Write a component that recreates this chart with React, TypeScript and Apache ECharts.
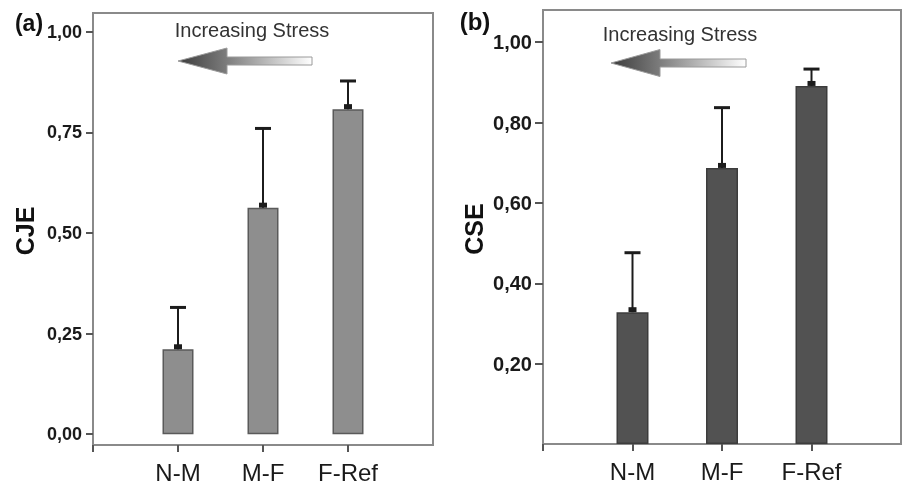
import React, { useEffect, useRef } from "react";
import * as echarts from "echarts";

// ---- data ----
const categories = ["N-M", "M-F", "F-Ref"];
const cjeMeans = [0.211, 0.563, 0.808];
const cjeErrTop = [0.315, 0.76, 0.878];
const cseMeans = [0.328, 0.687, 0.891];
const cseErrTop = [0.476, 0.837, 0.933];
const cjeTicks = [0, 0.25, 0.5, 0.75, 1.0];
const cseTicks = [0.2, 0.4, 0.6, 0.8, 1.0];
const annotation = "Increasing Stress";

const fmt = (v: number) => v.toFixed(2).replace(".", ",");

function errSeries(xAxisIndex: number, means: number[], tops: number[]) {
  return {
    type: "custom",
    xAxisIndex,
    yAxisIndex: xAxisIndex,
    data: means.map((m, i) => [i + 1, m, tops[i]]),
    z: 5,
    renderItem: (params: any, api: any) => {
      const x = api.value(0);
      const base = api.coord([x, api.value(1)]);
      const top = api.coord([x, api.value(2)]);
      const c = "#1c1c1c";
      return {
        type: "group",
        children: [
          { type: "line", shape: { x1: base[0], y1: base[1], x2: top[0], y2: top[1] }, style: { stroke: c, lineWidth: 2 } },
          { type: "line", shape: { x1: top[0] - 8, y1: top[1], x2: top[0] + 8, y2: top[1] }, style: { stroke: c, lineWidth: 3 } },
          { type: "rect", shape: { x: base[0] - 4, y: base[1] - 5, width: 8, height: 5 }, style: { fill: c } },
        ],
      };
    },
  };
}

function arrow(tipX: number, tipY: number, headX: number, headHalf: number, shaftHalf: number, tailX: number) {
  return {
    type: "polygon",
    shape: {
      points: [
        [tipX, tipY],
        [headX, tipY - headHalf],
        [headX, tipY - shaftHalf],
        [tailX, tipY - shaftHalf],
        [tailX, tipY + shaftHalf],
        [headX, tipY + shaftHalf],
        [headX, tipY + headHalf],
      ],
    },
    style: {
      fill: new echarts.graphic.LinearGradient(0, 0, 1, 0, [
        { offset: 0, color: "#3c3c3c" },
        { offset: 0.35, color: "#7a7a7a" },
        { offset: 1, color: "#ffffff" },
      ]),
      stroke: "#9a9a9a",
      lineWidth: 1,
    },
  };
}

export default function App() {
  const ref = useRef<HTMLDivElement>(null);
  useEffect(() => {
    if (!ref.current) return;
    const chart = echarts.init(ref.current, undefined, { renderer: "svg" });
    const frame = "#8a8a8a";
    const font = "Liberation Sans, Arial, sans-serif";
    const xAxisBase = (gridIndex: number) => ({
      type: "value",
      gridIndex,
      min: 0,
      max: 4,
      axisLine: { onZero: false, lineStyle: { color: frame, width: 2 } },
      axisTick: { customValues: [0, 1, 2, 3], length: 7, lineStyle: { color: "#555", width: 2 } },
      axisLabel: {
        customValues: [1, 2, 3],
        formatter: (v: number) => categories[Math.round(v) - 1] ?? "",
        color: "#1a1a1a",
        fontSize: 24,
        fontFamily: font,
        margin: 15,
      },
      splitLine: { show: false },
    });
    const option: any = {
      animation: false,
      grid: [
        { left: 93, top: 13, width: 340, height: 432, show: true, borderColor: frame, borderWidth: 2 },
        { left: 543, top: 10, width: 358, height: 434, show: true, borderColor: frame, borderWidth: 2 },
      ],
      xAxis: [xAxisBase(0), xAxisBase(1)],
      yAxis: [
        {
          type: "value",
          gridIndex: 0,
          min: -0.027,
          max: 1.047,
          axisLine: { show: true, onZero: false, lineStyle: { color: frame, width: 2 } },
          axisTick: { show: true, customValues: cjeTicks, length: 7, lineStyle: { color: "#555", width: 2 } },
          axisLabel: { customValues: cjeTicks, formatter: fmt, fontWeight: "bold", fontSize: 18, fontFamily: font, color: "#1a1a1a", margin: 11 },
          splitLine: { show: false },
        },
        {
          type: "value",
          gridIndex: 1,
          min: 0,
          max: 1.08,
          axisLine: { show: true, onZero: false, lineStyle: { color: frame, width: 2 } },
          axisTick: { show: true, customValues: cseTicks, length: 8, lineStyle: { color: "#555", width: 2 } },
          axisLabel: { customValues: cseTicks, formatter: fmt, fontWeight: "bold", fontSize: 20, fontFamily: font, color: "#1a1a1a", margin: 11 },
          splitLine: { show: false },
        },
      ],
      series: [
        {
          type: "bar",
          xAxisIndex: 0,
          yAxisIndex: 0,
          barWidth: 31,
          data: cjeMeans.map((m, i) => [i + 1, m]),
          itemStyle: { color: "#8e8e8e", borderColor: "#5a5a5a", borderWidth: 1.5 },
        },
        {
          type: "bar",
          xAxisIndex: 1,
          yAxisIndex: 1,
          barWidth: 32,
          data: cseMeans.map((m, i) => [i + 1, m]),
          itemStyle: { color: "#525252", borderColor: "#3c3c3c", borderWidth: 1.5 },
        },
        errSeries(0, cjeMeans, cjeErrTop),
        errSeries(1, cseMeans, cseErrTop),
      ],
      graphic: [
        { type: "text", x: 29, y: 23, style: { text: "(a)", font: `bold 23px ${font}`, fill: "#111", align: "center", verticalAlign: "middle" } },
        { type: "text", x: 475, y: 21, style: { text: "(b)", font: `bold 24px ${font}`, fill: "#111", align: "center", verticalAlign: "middle" } },
        { type: "text", x: 25, y: 231, rotation: Math.PI / 2, style: { text: "CJE", font: `bold 25px ${font}`, fill: "#111", align: "center", verticalAlign: "middle" } },
        { type: "text", x: 474, y: 229, rotation: Math.PI / 2, style: { text: "CSE", font: `bold 25px ${font}`, fill: "#111", align: "center", verticalAlign: "middle" } },
        { type: "text", x: 252, y: 30, style: { text: annotation, font: `20px ${font}`, fill: "#333", align: "center", verticalAlign: "middle" } },
        { type: "text", x: 680, y: 34, style: { text: annotation, font: `20px ${font}`, fill: "#333", align: "center", verticalAlign: "middle" } },
        arrow(178, 61, 227, 13, 4, 312),
        arrow(611, 63, 660, 13.5, 4, 746),
      ],
    };
    chart.setOption(option);
    return () => chart.dispose();
  }, []);
  return <div ref={ref} style={{ position: "fixed", left: 0, top: 0, width: 903, height: 484 }} />;
}
